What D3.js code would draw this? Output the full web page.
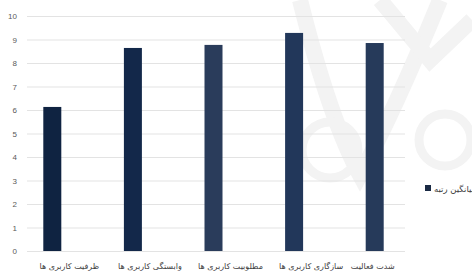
<!DOCTYPE html>
<html>
<head>
<meta charset="utf-8">
<script src="https://cdn.jsdelivr.net/npm/d3@7"></script>
<style>
  html, body { margin: 0; padding: 0; background: #fff; overflow: hidden; }
  svg { display: block; font-family: 'DejaVu Sans', sans-serif; }
</style>
</head>
<body>
<div id="app"></div>
<script>
// داده‌ها
const categories = ['ظرفیت کاربری ها', 'وابستگی کاربری ها', 'مطلوبیت کاربری ها', 'سازگاری کاربری ها', 'شدت فعالیت']
const values = [6.13, 8.64, 8.77, 9.28, 8.85]
const barColors = ['#0f2341', '#13284a', '#2a3c5b', '#22375a', '#263a5a']
const yTicks = [0, 1, 2, 3, 4, 5, 6, 7, 8, 9, 10]
const seriesName = 'میانگین رتبه'

const w = 472
const h = 273

const svg = d3.select('#app')
  .append('svg')
  .attr('width', w)
  .attr('height', h)

// watermark (faint logo in background)
const wm = svg.append('g').attr('fill', 'none').attr('stroke', '#f3f3f3').attr('stroke-width', 16)
wm.append('path').attr('d', 'M300,0 Q330,120 360,175 Q395,110 440,0')
wm.append('path').attr('d', 'M380,0 L430,60 L472,20')
wm.append('circle').attr('cx', 330).attr('cy', 150).attr('r', 28).attr('stroke-width', 9)
wm.append('circle').attr('cx', 445).attr('cy', 140).attr('r', 26).attr('stroke-width', 9)

const xScale = d3.scaleBand()
  .domain(categories)
  .range([12, 415])
  .padding(0)

const yScale = d3.scaleLinear()
  .domain([0, 10])
  .range([251, 16])

const barW = 18

// grid lines
svg.append('g')
  .selectAll('line')
  .data(yTicks)
  .enter()
  .append('line')
  .attr('x1', 27)
  .attr('x2', 405)
  .attr('y1', d => yScale(d) + 0.5)
  .attr('y2', d => yScale(d) + 0.5)
  .attr('stroke', '#e3e3e3')
  .attr('stroke-width', 1)

// y axis labels
const yAxis = d3.axisLeft(yScale)
  .tickValues(yTicks)
  .tickSize(0)
  .tickPadding(0)

svg.append('g')
  .attr('transform', 'translate(17,0)')
  .call(yAxis)
  .call(g => g.select('.domain').remove())
  .call(g => g.selectAll('text')
    .attr('fill', '#595959')
    .attr('font-size', 8))

// bars
svg.selectAll('rect.bar')
  .data(values)
  .enter()
  .append('rect')
  .attr('class', 'bar')
  .attr('x', (d, i) => xScale(categories[i]) + xScale.bandwidth() / 2 - barW / 2)
  .attr('y', d => yScale(d))
  .attr('width', barW)
  .attr('height', d => yScale(0) - yScale(d))
  .attr('fill', (d, i) => barColors[i])

// category labels
svg.append('g')
  .selectAll('text')
  .data(categories)
  .enter()
  .append('text')
  .attr('x', (d, i) => xScale(d) + xScale.bandwidth() / 2 + (i < 4 ? 17 : -2))
  .attr('y', 269)
  .attr('text-anchor', 'middle')
  .attr('direction', 'rtl')
  .attr('font-size', 8)
  .attr('fill', '#404040')
  .text(d => d)

// legend
const legend = svg.append('g')
  .attr('transform', 'translate(425,185)')

legend.append('rect')
  .attr('width', 6)
  .attr('height', 6)
  .attr('fill', '#1a2a44')

legend.append('text')
  .attr('x', 9)
  .attr('y', 6.5)
  .attr('font-size', 8.5)
  .attr('fill', '#404040')
  .text(seriesName)
</script>
</body>
</html>
